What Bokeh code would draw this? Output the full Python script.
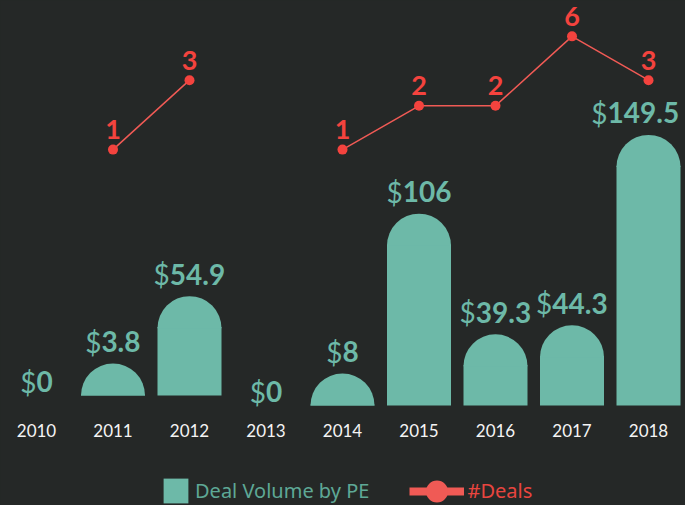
import numpy as np
from bokeh.plotting import figure
from bokeh.models import Range1d, LogScale, Legend, LegendItem
from bokeh.core.properties import value
from bokeh.embed import file_html
from bokeh.resources import INLINE

# ---------------- data ----------------
years = ["2010", "2011", "2012", "2013", "2014", "2015", "2016", "2017", "2018"]
deal_volume = [0, 3.8, 54.9, 0, 8, 106, 39.3, 44.3, 149.5]   # $ (Deal Volume by PE)
deal_count = [None, 1, 3, None, 1, 2, 2, 6, 3]                # #Deals
first_period = ["2010", "2011", "2012"]                       # drawn on its own baseline

# ---------------- style ----------------
BG = "#252827"
TEAL = "#6db9a8"
TEAL_TXT = "#5ea896"
RED = "#f4433e"
RED_LINE = "#f05a55"
WHITE = "#f4f4f4"

W, H = 685, 505
PX_X = 76.5          # px per category
X0 = 36              # px of first category centre
PX_Y = 1.81          # px per $ unit
BASE_MAIN = 100      # px of baseline above bottom
BASE_LEFT = 110
CAP_R = 32           # rounded cap radius (px)
BAR_W = 64 / PX_X
EDGE = 6             # keep labels this far from the right edge

cap_u = CAP_R / PX_Y

p = figure(width=W, height=H, output_backend="svg", toolbar_location=None,
           x_range=Range1d(-X0 / PX_X, (W - X0) / PX_X),
           y_range=Range1d(-BASE_MAIN / PX_Y, (H - BASE_MAIN) / PX_Y),
           x_axis_location=None, y_axis_location=None, min_border=0,
           background_fill_color=BG, border_fill_color=BG, outline_line_color=None)
p.grid.visible = False

# log range for deal count line
ln_px = 63.2
ln_bottom = -355.9 / ln_px
p.extra_y_ranges = {
    "left": Range1d(-BASE_LEFT / PX_Y, (H - BASE_LEFT) / PX_Y),
    "deals": Range1d(float(np.exp(ln_bottom)), float(np.exp(ln_bottom + H / ln_px))),
}
p.extra_y_scales = {"deals": LogScale()}

idx = np.arange(len(years))
vol = np.array(deal_volume, dtype=float)
shown_top = np.where(vol > 0, np.maximum(vol, cap_u), 0.0)
body_top = np.maximum(shown_top - cap_u + 0.6, 0.0)
in_first = np.array([y in first_period for y in years])

def num_w(s, fs):
    w = 0.0
    for ch in s:
        w += 0.25 * fs if ch == "." else 0.58 * fs
    return w

VFS = 28
bar_renderer = None
for mask_grp, rn in ((in_first, "left"), (~in_first, "default")):
    m = mask_grp & (vol > 0)
    r = p.vbar(x=idx[m], bottom=0, top=body_top[m], width=BAR_W, fill_color=TEAL,
               line_color=None, y_range_name=rn)
    if rn == "default":
        bar_renderer = r
    p.wedge(x=idx[m], y=shown_top[m] - cap_u, radius=CAP_R, radius_units="screen",
            start_angle=0, end_angle=np.pi, fill_color=TEAL, line_color=None,
            y_range_name=rn)
    # value labels: "$" regular + number bold, centred together
    vals = vol[mask_grp]
    xs = idx[mask_grp]
    ys = shown_top[mask_grp]
    nums = [f"{v:g}" for v in vals]
    dollar_w = 0.58 * VFS
    offs = []
    for s, i in zip(nums, xs):
        total = dollar_w + num_w(s, VFS)
        centre_px = X0 + i * PX_X
        shift = min(0.0, (W - EDGE) - (centre_px + total / 2))
        offs.append(-total / 2 + dollar_w + shift)
    yoffs = [-22 if v > 0 else -14 for v in vals]
    p.text(x=xs, y=ys, text=["$"] * len(xs), x_offset=offs, y_offset=yoffs,
           text_align="right", text_baseline="middle", text_color=TEAL,
           text_font=value("Lato"), text_font_size=f"{VFS}px", text_font_style="normal",
           y_range_name=rn)
    p.text(x=xs, y=ys, text=nums, x_offset=offs, y_offset=yoffs,
           text_align="left", text_baseline="middle", text_color=TEAL,
           text_font=value("Lato"), text_font_size=f"{VFS}px", text_font_style="bold",
           y_range_name=rn)

# year labels
p.text(x=idx, y=np.zeros(len(idx)), text=years, y_offset=25, text_align="center",
       text_baseline="middle", text_color=WHITE, text_font=value("Lato"),
       text_font_size="17px")

# deals line
cnt = np.array([np.nan if c is None else c for c in deal_count], dtype=float)
p.line(x=idx, y=cnt, line_color=RED_LINE, line_width=1.5, y_range_name="deals")
ok = ~np.isnan(cnt)
p.scatter(x=idx[ok], y=cnt[ok], size=10, fill_color=RED, line_color=None,
          y_range_name="deals")
p.text(x=idx[ok], y=cnt[ok], text=[f"{int(c)}" for c in cnt[ok]], y_offset=-20,
       text_align="center", text_baseline="middle", text_color=RED,
       text_font=value("Lato"), text_font_size="27px", text_font_style="bold",
       y_range_name="deals")

# legend-only renderers for the #Deals key (no visible data)
leg_line = p.line(x=[np.nan], y=[np.nan], line_color=RED_LINE, line_width=8)
leg_dot = p.scatter(x=[np.nan], y=[np.nan], size=24, fill_color=RED_LINE, line_color=None)

leg_a = Legend(items=[LegendItem(label="Deal Volume by PE", renderers=[bar_renderer], index=0)],
               location=(160, -1), orientation="horizontal", glyph_width=31, glyph_height=31,
               label_standoff=4, padding=0, margin=0, border_line_alpha=0,
               background_fill_alpha=0, label_text_font="Noto Sans",
               label_text_font_size="20px", label_text_color=TEAL_TXT,
               label_text_baseline="middle")
leg_b = Legend(items=[LegendItem(label="#Deals", renderers=[leg_line, leg_dot], index=0)],
               location=(408.5, -16.5), orientation="horizontal", glyph_width=55, glyph_height=62,
               label_standoff=4, padding=0, margin=0, border_line_alpha=0,
               background_fill_alpha=0, label_text_font="Noto Sans",
               label_text_font_size="20px", label_text_color="#e9453f",
               label_text_baseline="middle")
p.add_layout(leg_a)
p.add_layout(leg_b)

html = file_html(p, INLINE)
html = html.replace("</head>", f"<style>html,body{{background:{BG};}}</style></head>", 1)
open("out.html", "w").write(html)
